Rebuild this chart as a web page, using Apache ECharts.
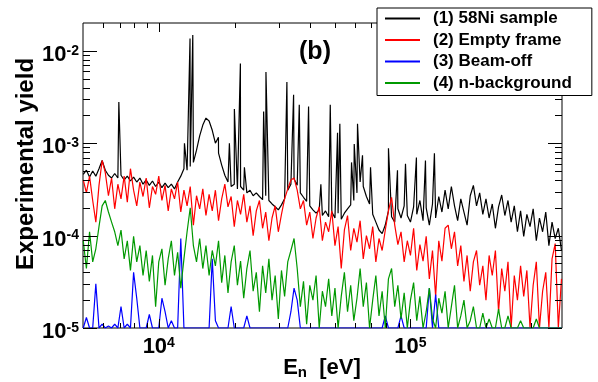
<!DOCTYPE html>
<html><head><meta charset="utf-8">
<script src="https://cdn.jsdelivr.net/npm/echarts@6/dist/echarts.min.js"></script>
<style>html,body{margin:0;padding:0;background:#fff}#c{width:598px;height:382px}</style>
</head><body><div id="c"></div>
<script>
// Neutron energy grid (eV), shared by all four spectra
const energies = [
 5012,5158,5309,5464,5623,5788,5957,6131,6310,6494,6683,6879,7079,7286,7499,7718,7943,8175,8414,8660,8913,9173,9441,9716,
 10000,10292,10593,10902,11220,11548,11885,12232,12589,12957,13335,13725,14125,14538,14962,15399,15849,16312,16788,17278,17783,18302,18836,19387,19953,
 20535,21135,21752,22387,23041,23714,24406,25119,25852,26607,27384,28184,29007,29854,30726,31623,32546,33497,34475,35481,36517,37584,38681,39811,
 40973,42170,43401,44668,45973,47315,48697,50119,51582,53088,54639,56234,57876,59566,61306,63096,64938,66834,68786,70795,72862,74989,77179,79433,
 81752,84140,86596,89125,91728,94406,97163,
 100000,102920,105930,109020,112200,115480,118850,122320,125890,129570,133350,137250,141250,145380,149620,153990,158490,163120,167880,172780,
 177830,183020,188360,193870,199530,205350,211350,217520,223870,230410,237140,244060,251190,258520,266070,273840,281840,290070,298540,307260,
 316230,325460,334970,344750,354810,365170,375840,386810,398110
];
// (1) 58Ni sample - continuum
const sample58Ni = [
 4.6e-4,5.1e-4,4.3e-4,5.0e-4,4.4e-4,5.3e-4,6.5e-4,5.1e-4,4.5e-4,4.2e-4,
 4.7e-4,4.2e-4,4.5e-4,4.0e-4,4.4e-4,3.9e-4,4.3e-4,3.8e-4,4.2e-4,3.6e-4,
 4.0e-4,3.5e-4,3.9e-4,3.4e-4,3.8e-4,3.3e-4,3.7e-4,3.3e-4,3.6e-4,3.2e-4,
 3.8e-4,4.4e-4,5.3e-4,5.1e-4,5.6e-4,6.2e-4,8.4e-4,1.2e-3,1.57e-3,1.87e-3,
 1.74e-3,1.38e-3,1.0e-3,7.8e-4,5.8e-4,4.5e-4,3.8e-4,3.4e-4,3.6e-4,3.2e-4,
 3.4e-4,3.1e-4,2.9e-4,3.1e-4,2.7e-4,2.9e-4,2.65e-4,2.45e-4,2.7e-4,2.4e-4,
 2.2e-4,2.05e-4,1.9e-4,2.15e-4,2.5e-4,3.1e-4,3.6e-4,4.1e-4,3.5e-4,2.9e-4,
 2.6e-4,2.35e-4,2.1e-4,1.9e-4,1.75e-4,1.9e-4,1.65e-4,1.85e-4,1.6e-4,1.8e-4,
 1.55e-4,1.75e-4,1.5e-4,1.75e-4,1.95e-4,2.15e-4,2.4e-4,2.9e-4,3.8e-4,3.4e-4,
 2.65e-4,2.2e-4,1.7e-4,1.4e-4,1.15e-4,1.05e-4,1.3e-4,1.85e-4,1.6e-4,1.4e-4,
 1.95e-4,1.55e-4,2.1e-4,1.65e-4,1.4e-4,2.05e-4,1.7e-4,2.4e-4,1.45e-4,2.0e-4,
 1.3e-4,2.2e-4,1.55e-4,2.65e-4,1.8e-4,3.1e-4,1.95e-4,3.4e-4,2.1e-4,1.45e-4,
 2.5e-4,1.8e-4,1.3e-4,2.7e-4,3.5e-4,2.1e-4,2.9e-4,1.7e-4,2.5e-4,1.55e-4,
 2.2e-4,1.2e-4,2.05e-4,2.75e-4,1.65e-4,2.4e-4,1.4e-4,2.1e-4,1.1e-4,1.85e-4,
 9.8e-5,1.7e-4,1.25e-4,1.95e-4,8.8e-5,1.55e-4,1.1e-4,1.8e-4,7.8e-5,1.4e-4,
 9.3e-5,1.2e-4,6.9e-5
];
// (1) 58Ni sample - resonance peaks
const peakEnergies = [6940,12650,13310,13650,17260,19080,19970,21100,21890,26100,26660,32290,34330,36160,39370,44060,48010,51320,52410,58330,59780,61610,64480,69400,81770,88800,95550,105600,114700,124500];
const peakYields   = [2.8e-3,1.0e-3,1.36e-2,1.48e-2,1.16e-3,1.0e-3,2.35e-3,7.3e-3,5.5e-4,2.2e-3,5.9e-3,4.6e-3,3.35e-3,2.6e-3,2.5e-3,3.6e-4,2.6e-3,1.3e-3,1.62e-3,6.2e-4,9.8e-4,1.62e-3,7.4e-4,5.5e-4,8.8e-4,5.1e-4,6.0e-4,7.0e-4,6.5e-4,7.8e-4];
// (2) Empty frame (0 = empty bin)
const emptyFrame = [
 4.0e-4,2.9e-4,4.4e-4,2.4e-4,1.4e-4,3.5e-4,6.5e-4,4.8e-4,2.7e-4,4.2e-4,
 1.95e-4,3.6e-4,2.5e-4,4.4e-4,2.3e-4,5.3e-4,3.1e-4,2.1e-4,3.8e-4,2.65e-4,
 4.2e-4,2.0e-4,3.4e-4,2.8e-4,4.4e-4,2.4e-4,3.5e-4,1.85e-4,3.2e-4,2.5e-4,
 3.8e-4,1.8e-4,3.1e-4,2.1e-4,3.4e-4,1.3e-4,2.7e-4,1.95e-4,3.2e-4,1.65e-4,
 2.8e-4,1.85e-4,3.1e-4,1.45e-4,2.5e-4,3.6e-4,2.05e-4,2.65e-4,1.25e-4,2.4e-4,
 1.7e-4,2.8e-4,1.4e-4,2.1e-4,1.0e-4,1.85e-4,2.4e-4,1.2e-4,1.8e-4,8.8e-5,
 1.55e-4,2.1e-4,1.1e-4,1.7e-4,2.5e-4,3.2e-4,4.0e-4,4.2e-4,3.1e-4,1.95e-4,
 2.4e-4,1.3e-4,1.8e-4,9.3e-5,1.55e-4,2.05e-4,8.8e-5,1.4e-4,1.1e-4,1.85e-4,
 7.8e-5,1.25e-4,4.4e-5,1.15e-4,1.65e-4,6.9e-5,1.2e-4,8.5e-5,1.45e-4,5.6e-5,
 1.0e-4,7.2e-5,1.25e-4,5.2e-5,9.3e-5,6.9e-5,1.15e-4,1.85e-4,2.6e-4,1.3e-4,
 8.0e-5,1.1e-4,5.2e-5,8.8e-5,6.1e-5,1.2e-4,4.2e-5,8.0e-5,5.3e-5,9.8e-5,
 3.4e-5,6.9e-5,2.2e-5,8.8e-5,5.3e-5,1.2e-4,1.3e-4,7.2e-5,1.1e-4,4.7e-5,
 7.8e-5,3.2e-5,6.1e-5,2.5e-5,5.2e-5,6.9e-5,2.9e-5,4.7e-5,2.0e-5,6.1e-5,
 3.7e-5,6.9e-5,1.5e-5,4.4e-5,2.5e-5,5.2e-5,0,3.7e-5,2.0e-5,4.7e-5,
 2.2e-5,4.2e-5,0,2.9e-5,5.2e-5,0,2.5e-5,4.0e-5,0,5.6e-5,
 8.2e-5,0,3.4e-5
];
// (3) Beam-off (0 = empty bin)
const beamOff = [
 0,1.3e-5,0,0,3.0e-5,0,1.1e-5,0,1.05e-5,0,
 1.1e-5,0,1.7e-5,0,1.1e-5,0,4.0e-5,2.1e-5,0,0,
 0,1.4e-5,0,0,0,2.1e-5,1.5e-5,0,1.2e-5,0,
 0,9.3e-5,0,0,0,0,0,0,0,0,
 0,5.6e-5,1.2e-5,0,0,0,0,1.7e-5,0,0,
 0,0,1.35e-5,0,0,0,0,0,0,0,
 0,0,0,0,0,0,1.5e-5,2.7e-5,2.0e-5,0,
 0,0,0,0,0,0,0,0,0,0,
 0,0,0,0,0,0,0,0,0,0,
 0,0,0,0,0,0,1.35e-5,0,0,0,
 0,1.35e-5,0,0,0,0,0,0,0,0,
 2.7e-5,0,2.3e-5,0,0,0,0,0,0,0,
 0,0,0,0,0,0,0,0,0,0,
 0,0,0,0,0,0,0,0,0,0,
 0,0,0,0,0,0,0,0,0,0,
 0,0,0
];
// (4) n-background (0 = empty bin)
const nBackground = [
 8.8e-5,4.4e-5,1.1e-4,5.2e-5,7.2e-5,1.25e-4,2.1e-4,2.4e-4,1.8e-4,1.4e-4,
 1.1e-4,7.8e-5,1.15e-4,5.6e-5,8.8e-5,4.2e-5,9.8e-5,5.2e-5,7.8e-5,3.7e-5,
 6.9e-5,3.2e-5,6.1e-5,1.7e-5,5.2e-5,7.2e-5,2.9e-5,5.6e-5,8.8e-5,3.7e-5,
 6.6e-5,2.7e-5,5.6e-5,1.1e-4,2.0e-4,7.8e-5,5.2e-5,9.3e-5,4.4e-5,7.8e-5,
 3.7e-5,6.9e-5,4.7e-5,8.8e-5,3.1e-5,6.1e-5,2.4e-5,5.2e-5,7.8e-5,2.9e-5,
 5.3e-5,2.1e-5,4.4e-5,6.9e-5,2.5e-5,4.0e-5,1.5e-5,4.7e-5,2.4e-5,5.6e-5,
 2.0e-5,3.7e-5,1.25e-5,4.2e-5,2.2e-5,5.2e-5,6.9e-5,9.3e-5,4.4e-5,1.7e-5,
 3.2e-5,1.1e-5,2.9e-5,2.0e-5,3.7e-5,0,2.5e-5,1.7e-5,3.4e-5,1.35e-5,
 2.7e-5,0,2.2e-5,4.0e-5,1.5e-5,2.9e-5,1.2e-5,2.1e-5,4.4e-5,1.7e-5,
 3.1e-5,0,2.0e-5,3.7e-5,1.35e-5,2.5e-5,0,3.4e-5,4.4e-5,1.7e-5,
 2.9e-5,1.25e-5,2.4e-5,0,2.0e-5,3.1e-5,1.2e-5,2.2e-5,0,1.5e-5,
 2.7e-5,1.25e-5,0,2.1e-5,1.45e-5,2.5e-5,0,1.7e-5,2.9e-5,0,
 1.35e-5,2.0e-5,0,1.2e-5,1.7e-5,0,0,1.45e-5,0,1.25e-5,
 0,0,1.6e-5,0,0,1.35e-5,0,0,0,1.2e-5,
 0,0,0,0,1.25e-5,0,0,0,0,0,
 0,0,0
];
const seriesNames = ['(1) 58Ni sample','(2) Empty frame','(3) Beam-off','(4) n-background'];
const seriesColors = ['#000000','#ff0000','#0000ff','#009900'];
const xMajorTicks = [10000,100000];
const xMinorTicks = [6000,7000,8000,9000,20000,30000,40000,50000,60000,70000,80000,90000,200000,300000];
const yMajorTicks = [1e-5,1e-4,1e-3,1e-2];
const yMinorTicks = [2e-5,3e-5,4e-5,5e-5,6e-5,7e-5,8e-5,9e-5,2e-4,3e-4,4e-4,5e-4,6e-4,7e-4,8e-4,9e-4,2e-3,3e-3,4e-3,5e-3,6e-3,7e-3,8e-3,9e-3];
const X_MIN = 5000, X_MAX = 400000, Y_MIN = 1e-5, Y_MAX = 0.02;

const FONT = 'Liberation Sans, Arial, Helvetica, sans-serif';
function toPairs(vals){ return energies.map((e,i)=>[e, vals[i] > 0 ? vals[i] : Y_MIN]); }
const blackData = toPairs(sample58Ni).concat(peakEnergies.map((e,i)=>[e, peakYields[i]])).sort((a,b)=>a[0]-b[0]);
const allData = [blackData, toPairs(emptyFrame), toPairs(beamOff), toPairs(nBackground)];

const powLabel = v => '{b|10}{s|' + Math.round(Math.log10(v)) + '}';
const labelRich = {
  b:{fontSize:22,fontWeight:'bold',fontFamily:FONT,color:'#000',lineHeight:22},
  s:{fontSize:14,fontWeight:'bold',fontFamily:FONT,color:'#000',lineHeight:14,verticalAlign:'top'}
};

// tick marks drawn through the axes' own scales (inside, on all four sides)
const xTickData = xMajorTicks.map(v=>[v, Y_MIN, 1]).concat(xMinorTicks.map(v=>[v, Y_MIN, 0]));
const yTickData = yMajorTicks.map(v=>[X_MIN, v, 1]).concat(yMinorTicks.map(v=>[X_MIN, v, 0]));
function seg(x1,y1,x2,y2){ return {type:'line', shape:{x1,y1,x2,y2}, style:{stroke:'#000', lineWidth:1}}; }
function xTickRender(params, api){
  const cs = params.coordSys, len = api.value(2) ? 9 : 5;
  const x = Math.round(api.coord([api.value(0), api.value(1)])[0]) + 0.5;
  const yb = cs.y + cs.height, yt = cs.y;
  return {type:'group', children:[seg(x, yb, x, yb-len), seg(x, yt, x, yt+len)]};
}
function yTickRender(params, api){
  const cs = params.coordSys, len = api.value(2) ? 14 : 7;
  const y = Math.round(api.coord([api.value(0), api.value(1)])[1]) + 0.5;
  const xl = cs.x, xr = cs.x + cs.width;
  return {type:'group', children:[seg(xl, y, xl+len, y), seg(xr, y, xr-len, y)]};
}

const chart = echarts.init(document.getElementById('c'), null, {renderer:'canvas'});
chart.setOption({
  animation:false,
  backgroundColor:'#fff',
  grid:{left:83, right:36, top:23, bottom:54, show:true, borderColor:'#000', borderWidth:1, backgroundColor:'rgba(0,0,0,0)'},
  xAxis:{type:'log', logBase:10, min:X_MIN, max:X_MAX, position:'bottom',
    axisLine:{show:false}, splitLine:{show:false}, axisTick:{show:false}, minorTick:{show:false},
    axisLabel:{show:true, customValues:xMajorTicks, formatter:powLabel, margin:8, rich:labelRich}},
  yAxis:{type:'log', logBase:10, min:Y_MIN, max:Y_MAX, position:'left',
    axisLine:{show:false}, splitLine:{show:false}, axisTick:{show:false}, minorTick:{show:false},
    axisLabel:{show:true, customValues:yMajorTicks, formatter:powLabel, margin:4, padding:[8,0,0,0], rich:labelRich}},
  legend:{
    show:true, orient:'vertical', left:377, top:8, padding:[2,20,4,8], z:20,
    icon:'rect', itemWidth:35, itemHeight:2, itemGap:4.5,
    backgroundColor:'#fff', borderColor:'#000', borderWidth:1,
    textStyle:{fontSize:17, fontWeight:'bold', fontFamily:FONT, color:'#000', lineHeight:17, padding:[0,0,0,8]},
    data:seriesNames.map((n,k)=>({name:n, itemStyle:{color:seriesColors[k]}}))
  },
  series: allData.map((d,k)=>({
    name:seriesNames[k], type:'line', data:d,
    symbol:'none', showSymbol:false, clip:true, silent:true, sampling:null,
    lineStyle:{color:seriesColors[k], width:1.2}, itemStyle:{color:seriesColors[k]}, color:seriesColors[k],
    z:2
  })).concat([
    {type:'custom', name:'xticks', data:xTickData, renderItem:xTickRender, silent:true, z:3, encode:{x:0,y:1}},
    {type:'custom', name:'yticks', data:yTickData, renderItem:yTickRender, silent:true, z:3, encode:{x:0,y:1}}
  ]),
  graphic:[
    {type:'text', x:26, y:164, rotation:Math.PI/2, silent:true,
     style:{text:'Experimental yield', font:'bold 24px '+FONT, fill:'#000', align:'center', verticalAlign:'middle'}},
    {type:'text', x:322, y:368, silent:true,
     style:{text:'{e|E}{n|n}{e|  [eV]}', align:'center', verticalAlign:'middle',
       rich:{e:{fontSize:22,fontWeight:'bold',fontFamily:FONT,fill:'#000',lineHeight:24},
             n:{fontSize:15,fontWeight:'bold',fontFamily:FONT,fill:'#000',lineHeight:15,verticalAlign:'bottom'}}}},
    {type:'text', x:315, y:52, silent:true,
     style:{text:'(b)', font:'bold 25px '+FONT, fill:'#000', align:'center', verticalAlign:'middle'}}
  ]
});
</script></body></html>
